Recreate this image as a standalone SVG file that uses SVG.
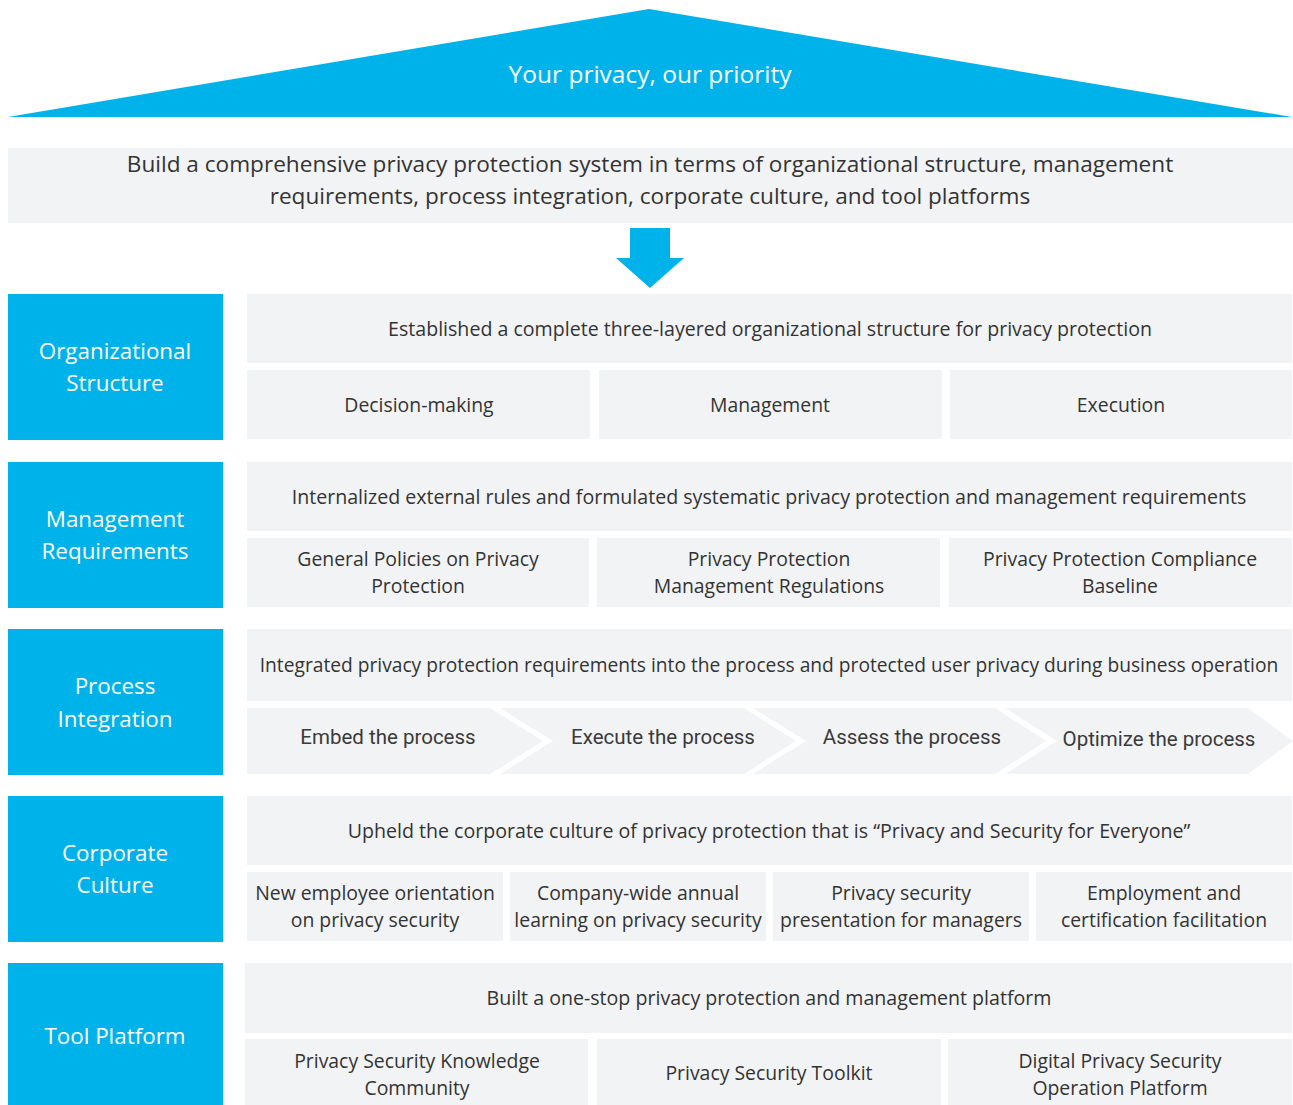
<svg xmlns="http://www.w3.org/2000/svg" width="1293" height="1105" viewBox="0 0 1293 1105">
<style>
.blue{fill:#00b2ea}
.gray{fill:#f2f3f5}
.t{font-family:"Open Sans","Noto Sans",sans-serif;fill:#333;font-size:19.4px;text-anchor:middle;dominant-baseline:central}
.h{font-size:19.6px}
.big{font-size:22.6px}
.w{fill:#fff;font-size:22.4px}
.r{font-family:Roboto,"Noto Sans",sans-serif;font-size:20.5px;fill:#3a3a3a}
</style>
<rect width="1293" height="1105" fill="#fff"/>
<g id="roof">
<polygon class="blue" points="8,117 649,9 1292,117"/>
<text class="t w" x="650" y="73" style="font-size:24.5px">Your privacy, our priority</text>
</g>
<g id="banner">
<rect class="gray" x="8" y="148" width="1285" height="75"/>
<text class="t big" x="650" y="163">Build a comprehensive privacy protection system in terms of organizational structure, management</text>
<text class="t big" x="650" y="195">requirements, process integration, corporate culture, and tool platforms</text>
</g>
<g id="connectors">
<polygon class="blue" points="630,228 670,228 670,258 684,258 650,288 616,258 630,258"/>
</g>
<g id="org">
<rect class="blue" x="8" y="294" width="215" height="146"/>
<text class="t w" x="115" y="350">Organizational</text>
<text class="t w" x="115" y="382">Structure</text>
<rect class="gray" x="247" y="294" width="1045" height="69"/>
<text class="t h" x="770" y="328">Established a complete three-layered organizational structure for privacy protection</text>
<rect class="gray" x="247" y="370" width="343" height="69"/>
<rect class="gray" x="599" y="370" width="343" height="69"/>
<rect class="gray" x="950" y="370" width="342" height="69"/>
<text class="t" x="419" y="404">Decision-making</text>
<text class="t" x="770" y="404">Management</text>
<text class="t" x="1121" y="404">Execution</text>
</g>
<g id="mgmt">
<rect class="blue" x="8" y="462" width="215" height="146"/>
<text class="t w" x="115" y="518">Management</text>
<text class="t w" x="115" y="550">Requirements</text>
<rect class="gray" x="247" y="462" width="1045" height="69"/>
<text class="t h" x="769" y="496">Internalized external rules and formulated systematic privacy protection and management requirements</text>
<rect class="gray" x="247" y="538" width="342" height="69"/>
<rect class="gray" x="597" y="538" width="343" height="69"/>
<rect class="gray" x="949" y="538" width="343" height="69"/>
<text class="t" x="418" y="558">General Policies on Privacy</text>
<text class="t" x="418" y="585">Protection</text>
<text class="t" x="769" y="558">Privacy Protection</text>
<text class="t" x="769" y="585">Management Regulations</text>
<text class="t" x="1120" y="558">Privacy Protection Compliance</text>
<text class="t" x="1120" y="585">Baseline</text>
</g>
<g id="process">
<rect class="blue" x="8" y="629" width="215" height="146"/>
<text class="t w" x="115" y="685">Process</text>
<text class="t w" x="115" y="718">Integration</text>
<rect class="gray" x="247" y="629" width="1045" height="72"/>
<text class="t" x="769" y="664" style="font-size:19.2px">Integrated privacy protection requirements into the process and protected user privacy during business operation</text>
<polygon class="gray" points="247,708 490,708 543,741 490,774 247,774"/>
<polygon class="gray" points="500,708 744,708 796,741 744,774 500,774 553,741"/>
<polygon class="gray" points="753,708 995,708 1046,741 995,774 753,774 806,741"/>
<polygon class="gray" points="1005,708 1248,708 1293,741 1248,774 1005,774 1057,741"/>
<text class="t r" x="388" y="737">Embed the process</text>
<text class="t r" x="663" y="737">Execute the process</text>
<text class="t r" x="912" y="737">Assess the process</text>
<text class="t r" x="1159" y="739">Optimize the process</text>
</g>
<g id="culture">
<rect class="blue" x="8" y="796" width="215" height="146"/>
<text class="t w" x="115" y="852">Corporate</text>
<text class="t w" x="115" y="884">Culture</text>
<rect class="gray" x="247" y="796" width="1045" height="69"/>
<text class="t h" x="769" y="830">Upheld the corporate culture of privacy protection that is “Privacy and Security for Everyone”</text>
<rect class="gray" x="247" y="872" width="256" height="69"/>
<rect class="gray" x="510" y="872" width="256" height="69"/>
<rect class="gray" x="773" y="872" width="256" height="69"/>
<rect class="gray" x="1036" y="872" width="256" height="69"/>
<text class="t" x="375" y="892">New employee orientation</text>
<text class="t" x="375" y="919">on privacy security</text>
<text class="t" x="638" y="892">Company-wide annual</text>
<text class="t" x="638" y="919">learning on privacy security</text>
<text class="t" x="901" y="892">Privacy security</text>
<text class="t" x="901" y="919">presentation for managers</text>
<text class="t" x="1164" y="892">Employment and</text>
<text class="t" x="1164" y="919">certification facilitation</text>
</g>
<g id="tool">
<rect class="blue" x="8" y="963" width="215" height="142"/>
<text class="t w" x="115" y="1035">Tool Platform</text>
<rect class="gray" x="245" y="963" width="1047" height="70"/>
<text class="t h" x="769" y="997">Built a one-stop privacy protection and management platform</text>
<rect class="gray" x="245" y="1039" width="343" height="66"/>
<rect class="gray" x="597" y="1039" width="344" height="66"/>
<rect class="gray" x="948" y="1039" width="344" height="66"/>
<text class="t" x="417" y="1060">Privacy Security Knowledge</text>
<text class="t" x="417" y="1087">Community</text>
<text class="t" x="769" y="1072">Privacy Security Toolkit</text>
<text class="t" x="1120" y="1060">Digital Privacy Security</text>
<text class="t" x="1120" y="1087">Operation Platform</text>
</g>
</svg>
